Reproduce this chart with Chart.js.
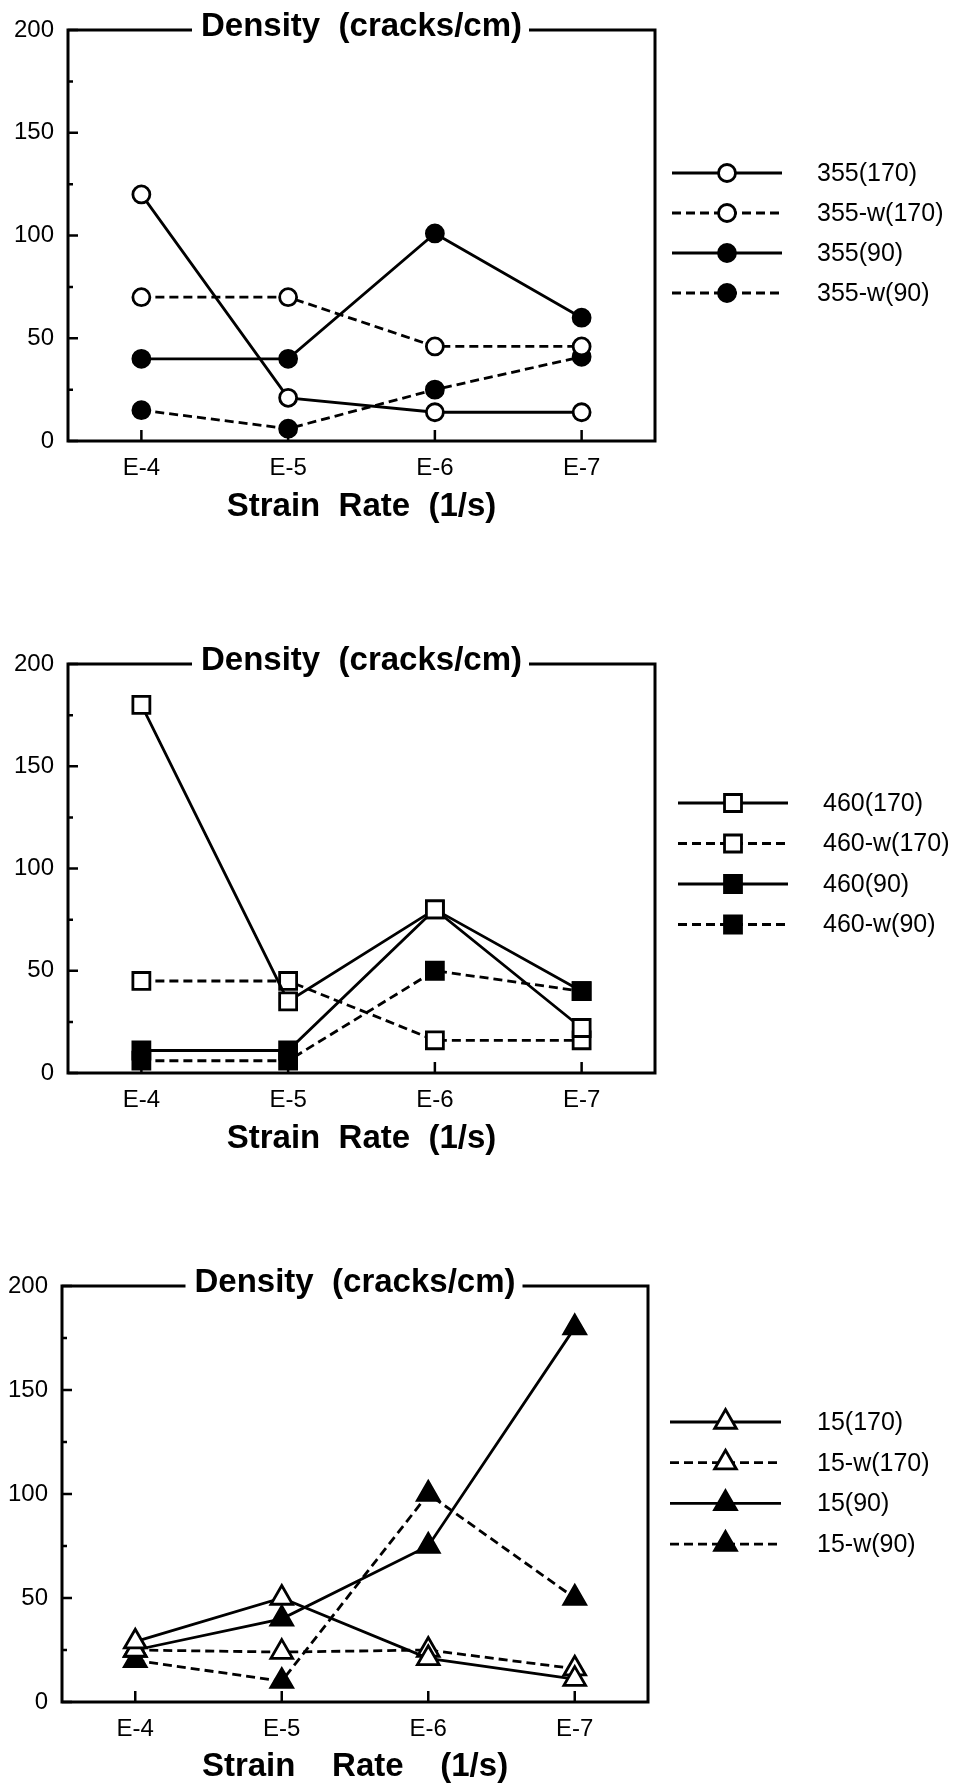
<!DOCTYPE html>
<html>
<head>
<meta charset="utf-8">
<title>Crack density vs strain rate</title>
<script src="https://cdn.jsdelivr.net/npm/chart.js@4.4.1/dist/chart.umd.min.js"></script>
<style>
  html, body { margin: 0; padding: 0; background: #fff; }
  .page { position: relative; width: 960px; height: 1784px; }
  canvas { position: absolute; left: 0; }
</style>
</head>
<body>
<div class="page">
  <canvas id="chart355" width="960" height="600" style="top:0px"></canvas>
  <canvas id="chart460" width="960" height="600" style="top:600px"></canvas>
  <canvas id="chart15" width="960" height="584" style="top:1200px"></canvas>
</div>
<script>
// categories and ticks
const categories = ['E-4', 'E-5', 'E-6', 'E-7'];
const yTicks = [0, 50, 100, 150, 200];
const yMinorTicks = [25, 75, 125, 175];

// 355 series
const s355_170 = [120, 21, 14, 14];
const s355w_170 = [70, 70, 46, 46];
const s355_90 = [40, 40, 101, 60];
const s355w_90 = [15, 6, 25, 41];

// 460 series
const s460_170 = [180, 35, 80, 22];
const s460w_170 = [45, 45, 16, 16];
const s460_90 = [11, 11, 80, 40];
const s460w_90 = [6, 6, 50, 40];

// 15 series
const s15_170 = [29, 50, 21, 11];
const s15w_170 = [25, 24, 25, 16];
const s15_90 = [25, 40, 75, 180];
const s15w_90 = [20, 10, 100, 50];

const FONT = '"Liberation Sans", Arial, Helvetica, sans-serif';
const DASH = [9, 5];

function series(label, data, shape, filled, dashed) {
  const radius = shape === 'circle' ? 8.5 : (shape === 'rect' ? 12 : 12.5);
  return {
    label: label,
    data: data,
    borderColor: '#000',
    borderWidth: 2.8,
    borderDash: dashed ? DASH : [],
    fill: false,
    tension: 0,
    pointStyle: shape,
    pointRadius: radius,
    pointHoverRadius: radius,
    pointBackgroundColor: filled ? '#000' : '#fff',
    pointBorderColor: '#000',
    pointBorderWidth: 2.8
  };
}

// frame, inward ticks, title in the top border, axis title and legend
const framePlugin = {
  id: 'frame',
  afterDraw(chart, args, opts) {
    const ctx = chart.ctx;
    const a = chart.chartArea;
    const y = chart.scales.y;
    const x = chart.scales.x;
    ctx.save();
    ctx.strokeStyle = '#000';
    ctx.lineWidth = 3;
    ctx.setLineDash([]);
    ctx.strokeRect(a.left, a.top, a.right - a.left, a.bottom - a.top);

    // inward ticks
    ctx.lineWidth = 2.5;
    ctx.beginPath();
    yTicks.forEach(v => {
      const py = y.getPixelForValue(v);
      ctx.moveTo(a.left, py); ctx.lineTo(a.left + 10, py);
    });
    yMinorTicks.forEach(v => {
      const py = y.getPixelForValue(v);
      ctx.moveTo(a.left, py); ctx.lineTo(a.left + 5, py);
    });
    categories.forEach((c, i) => {
      const px = x.getPixelForValue(i);
      ctx.moveTo(px, a.bottom); ctx.lineTo(px, a.bottom - 11);
    });
    ctx.stroke();

    // title sitting on the top border
    const cx = (a.left + a.right) / 2;
    ctx.font = 'bold 33px ' + FONT;
    const tw = ctx.measureText(opts.title).width;
    ctx.fillStyle = '#fff';
    ctx.fillRect(cx - tw / 2 - 9, a.top - 4, tw + 16, 8);
    ctx.fillStyle = '#000';
    ctx.textAlign = 'center';
    ctx.textBaseline = 'middle';
    ctx.fillText(opts.title, cx, a.top - 3);

    // x axis title
    ctx.fillText(opts.xTitle, cx, a.bottom + opts.xTitleGap);

    // legend
    const lg = opts.legend;
    chart.data.datasets.forEach((ds, i) => {
      const ly = lg.top + i * lg.gap;
      ctx.lineWidth = ds.borderWidth;
      ctx.setLineDash(ds.borderDash || []);
      ctx.beginPath();
      ctx.moveTo(lg.x1, ly); ctx.lineTo(lg.x2, ly);
      ctx.stroke();
      ctx.setLineDash([]);
      ctx.fillStyle = ds.pointBackgroundColor;
      ctx.strokeStyle = ds.pointBorderColor;
      ctx.lineWidth = ds.pointBorderWidth;
      Chart.helpers.drawPoint(ctx, {
        pointStyle: ds.pointStyle,
        radius: ds.pointRadius,
        rotation: 0,
        borderWidth: ds.pointBorderWidth
      }, (lg.x1 + lg.x2) / 2, ly);
      ctx.fillStyle = '#000';
      ctx.textAlign = 'left';
      ctx.textBaseline = 'middle';
      ctx.font = '25px ' + FONT;
      ctx.fillText(ds.label, lg.textX, ly + 1);
    });
    ctx.restore();
  }
};

function makeChart(id, datasets, box) {
  const canvas = document.getElementById(id);
  return new Chart(canvas, {
    type: 'line',
    data: { labels: categories, datasets: datasets },
    options: {
      responsive: false,
      animation: false,
      events: [],
      layout: { padding: { top: box.top, right: 960 - box.right, left: 0, bottom: 0 } },
      plugins: {
        legend: { display: false },
        tooltip: { enabled: false },
        title: { display: false },
        frame: {
          title: 'Density  (cracks/cm)',
          xTitle: box.xTitle,
          xTitleGap: box.xTitleGap,
          legend: box.legend
        }
      },
      scales: {
        x: {
          type: 'category',
          offset: true,
          grid: { display: false, drawTicks: false },
          border: { display: false },
          ticks: { color: '#000', font: { family: FONT, size: 24 }, padding: 13, maxRotation: 0 },
          afterFit: s => { s.height = canvas.height - box.bottom; }
        },
        y: {
          min: 0,
          max: 200,
          grid: { display: false, drawTicks: false },
          border: { display: false },
          afterBuildTicks: s => { s.ticks = yTicks.map(v => ({ value: v })); },
          ticks: { color: '#000', font: { family: FONT, size: 24 }, padding: 14 },
          afterFit: s => { s.width = box.left; }
        }
      }
    },
    plugins: [framePlugin]
  });
}

makeChart('chart355', [
  series('355(170)', s355_170, 'circle', false, false),
  series('355-w(170)', s355w_170, 'circle', false, true),
  series('355(90)', s355_90, 'circle', true, false),
  series('355-w(90)', s355w_90, 'circle', true, true)
], {
  left: 68, right: 655, top: 30, bottom: 441,
  xTitle: 'Strain  Rate  (1/s)', xTitleGap: 66,
  legend: { x1: 672, x2: 782, textX: 817, top: 173, gap: 40 }
});

makeChart('chart460', [
  series('460(170)', s460_170, 'rect', false, false),
  series('460-w(170)', s460w_170, 'rect', false, true),
  series('460(90)', s460_90, 'rect', true, false),
  series('460-w(90)', s460w_90, 'rect', true, true)
], {
  left: 68, right: 655, top: 64, bottom: 473,
  xTitle: 'Strain  Rate  (1/s)', xTitleGap: 66,
  legend: { x1: 678, x2: 788, textX: 823, top: 203, gap: 40.5 }
});

makeChart('chart15', [
  series('15(170)', s15_170, 'triangle', false, false),
  series('15-w(170)', s15w_170, 'triangle', false, true),
  series('15(90)', s15_90, 'triangle', true, false),
  series('15-w(90)', s15w_90, 'triangle', true, true)
], {
  left: 62, right: 648, top: 86, bottom: 502,
  xTitle: 'Strain    Rate    (1/s)', xTitleGap: 65,
  legend: { x1: 670, x2: 781, textX: 817, top: 222, gap: 40.7 }
});
</script>
</body>
</html>
